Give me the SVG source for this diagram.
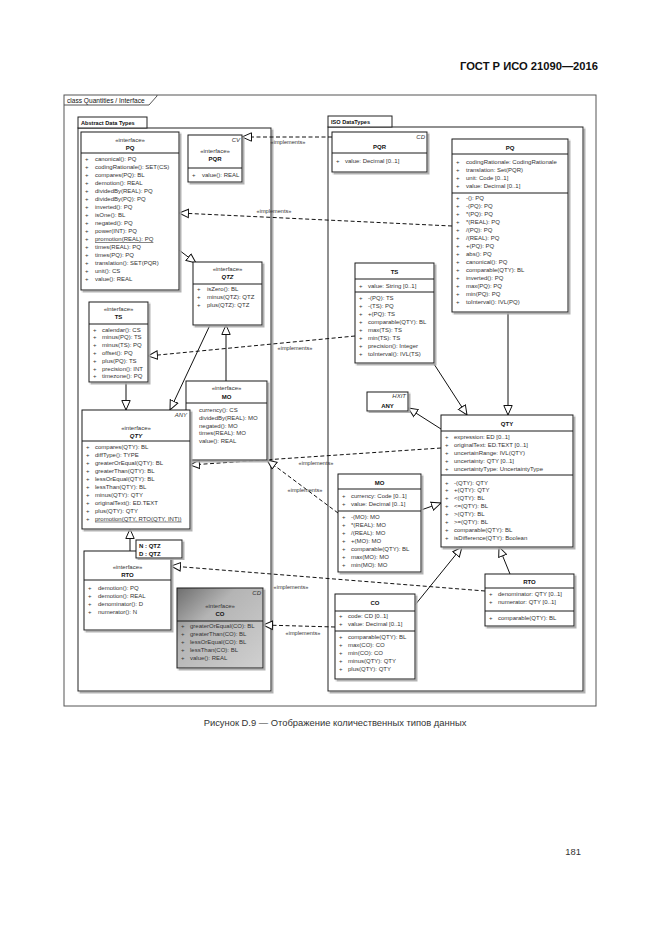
<svg xmlns="http://www.w3.org/2000/svg" width="661" height="935" viewBox="0 0 661 935">
<defs>
<style>
text{font-family:"Liberation Sans",Arial,sans-serif;font-size:6px;fill:#333}
.b{font-weight:bold;fill:#111}
.i{font-style:italic}
.c{text-anchor:middle}
.r{text-anchor:end}
.s{font-size:5.6px}
.bx{fill:#fff;stroke:#1a1a1a;stroke-width:1}
.sp{stroke:#1a1a1a;stroke-width:1}
.pk{fill:#fff;stroke:#222;stroke-width:1}
.cn{fill:none;stroke:#111;stroke-width:1}
.d{stroke-dasharray:4 2.5}
</style>
<filter id="sh" x="-5%" y="-5%" width="115%" height="115%">
<feOffset in="SourceAlpha" dx="1.6" dy="1.6" result="o"/>
<feColorMatrix in="o" type="matrix" values="0 0 0 0 0.4 0 0 0 0 0.4 0 0 0 0 0.4 0 0 0 0.9 0" result="g"/>
<feMerge><feMergeNode in="g"/><feMergeNode in="SourceGraphic"/></feMerge>
</filter>
<linearGradient id="gr" x1="0" y1="0" x2="1" y2="1">
<stop offset="0" stop-color="#6e6e6e"/>
<stop offset="0.35" stop-color="#b4b4b4"/>
<stop offset="1" stop-color="#d0d0d0"/>
</linearGradient>
<marker id="tri" markerUnits="userSpaceOnUse" markerWidth="12" markerHeight="12" refX="10" refY="5" orient="auto" viewBox="0 0 12 10">
<path d="M0.5,0.8 L10,5 L0.5,9.2 Z" fill="#fff" stroke="#111" stroke-width="1"/>
</marker>
</defs>
<rect width="661" height="935" fill="#fff"/>
<text x="598" y="70" class="b r" style="font-size:11.2px">ГОСТ Р ИСО 21090—2016</text>
<text x="335" y="726" class="c" style="font-size:9.4px">Рисунок D.9 — Отображение количественных типов данных</text>
<text x="581" y="855" class="r" style="font-size:9.4px">181</text>

<g id="frame">
<rect x="64" y="95" width="532" height="611" fill="none" stroke="#555" stroke-width="1"/>
<path d="M64,105 H149 L157,96 V95" fill="none" stroke="#555" stroke-width="1"/>
<text x="67" y="102.5" style="fill:#111;font-size:6.6px">class Quantities / Interface</text>
</g>

<g id="pkg-abstract">
<rect x="78" y="128" width="193" height="563" class="pk" filter="url(#sh)"/>
<rect x="78" y="117" width="69" height="11" class="pk"/>
<text x="81" y="125" class="b s">Abstract Data Types</text>
</g>
<g id="pkg-iso">
<rect x="328" y="127" width="255" height="564" class="pk" filter="url(#sh)"/>
<rect x="328" y="116" width="64" height="11" class="pk"/>
<text x="331" y="124" class="b s">ISO DataTypes</text>
</g>

<g id="connectors">
<path class="cn d" d="M332,137 L242,137" marker-end="url(#tri)"/>
<path class="cn d" d="M452,226 L179,213" marker-end="url(#tri)"/>
<path class="cn" d="M179,250 L196,263" marker-end="url(#tri)"/>
<path class="cn d" d="M355,336 L148,356" marker-end="url(#tri)"/>
<path class="cn" d="M210,325 L170,410" marker-end="url(#tri)"/>
<path class="cn" d="M226,381 L226,325" marker-end="url(#tri)"/>
<path class="cn" d="M126,381 L126,410" marker-end="url(#tri)"/>
<path class="cn" d="M130,551 L130,529" marker-end="url(#tri)"/>
<path class="cn d" d="M338,513 L267,460" marker-end="url(#tri)"/>
<path class="cn d" d="M441,448 L190,465" marker-end="url(#tri)"/>
<path class="cn" d="M434,364 L467,415" marker-end="url(#tri)"/>
<path class="cn" d="M508,312 L508,415" marker-end="url(#tri)"/>
<path class="cn" d="M441,429 L408,408" marker-end="url(#tri)"/>
<path class="cn" d="M421,510 L441,503" marker-end="url(#tri)"/>
<path class="cn" d="M415,605 L462,547" marker-end="url(#tri)"/>
<path class="cn" d="M510,574 L499,547" marker-end="url(#tri)"/>
<path class="cn d" d="M485,591 L171,566" marker-end="url(#tri)"/>
<path class="cn d" d="M335,627 L263,625" marker-end="url(#tri)"/>
<text x="288" y="143.5" class="c s">«implements»</text>
<text x="274" y="213" class="c s">«implements»</text>
<text x="295" y="350" class="c s">«implements»</text>
<text x="316" y="465" class="c s">«implements»</text>
<text x="305" y="492" class="c s">«implements»</text>
<text x="291" y="589" class="c s">«implements»</text>
<text x="303" y="635" class="c s">«implements»</text>
</g>

<g id="i-PQ">
<rect x="81" y="132" width="98" height="158" class="bx" filter="url(#sh)"/>
<line x1="81" y1="153" x2="179" y2="153" class="sp"/>
<text x="130" y="142" class="c">«interface»</text>
<text x="130" y="150" class="c b">PQ</text>
<text x="85" y="161.3">+<tspan x="95">canonical(): PQ</tspan></text>
<text x="85" y="169.3">+<tspan x="95">codingRationale(): SET(CS)</tspan></text>
<text x="85" y="177.3">+<tspan x="95">compares(PQ): BL</tspan></text>
<text x="85" y="185.3">+<tspan x="95">demotion(): REAL</tspan></text>
<text x="85" y="193.3">+<tspan x="95">dividedBy(REAL): PQ</tspan></text>
<text x="85" y="201.3">+<tspan x="95">dividedBy(PQ): PQ</tspan></text>
<text x="85" y="209.3">+<tspan x="95">inverted(): PQ</tspan></text>
<text x="85" y="217.3">+<tspan x="95">isOne(): BL</tspan></text>
<text x="85" y="225.3">+<tspan x="95">negated(): PQ</tspan></text>
<text x="85" y="233.3">+<tspan x="95">power(INT): PQ</tspan></text>
<text x="85" y="241.3">+<tspan x="95" text-decoration="underline">promotion(REAL): PQ</tspan></text>
<text x="85" y="249.3">+<tspan x="95">times(REAL): PQ</tspan></text>
<text x="85" y="257.3">+<tspan x="95">times(PQ): PQ</tspan></text>
<text x="85" y="265.3">+<tspan x="95">translation(): SET(PQR)</tspan></text>
<text x="85" y="273.3">+<tspan x="95">unit(): CS</tspan></text>
<text x="85" y="281.3">+<tspan x="95">value(): REAL</tspan></text>
</g>

<g id="i-PQR">
<rect x="188" y="135" width="54" height="47" class="bx" filter="url(#sh)"/>
<line x1="188" y1="168" x2="242" y2="168" class="sp"/>
<text x="240" y="141.5" class="r i">CV</text>
<text x="215" y="153" class="c">«interface»</text>
<text x="215" y="161" class="c b">PQR</text>
<text x="192" y="177">+<tspan x="202">value(): REAL</tspan></text>
</g>

<g id="i-QTZ">
<rect x="193" y="262" width="69" height="63" class="bx" filter="url(#sh)"/>
<line x1="193" y1="284" x2="262" y2="284" class="sp"/>
<text x="227.5" y="271" class="c">«interface»</text>
<text x="227.5" y="279" class="c b i">QTZ</text>
<text x="197" y="291">+<tspan x="207">isZero(): BL</tspan></text>
<text x="197" y="299">+<tspan x="207">minus(QTZ): QTZ</tspan></text>
<text x="197" y="307">+<tspan x="207">plus(QTZ): QTZ</tspan></text>
</g>

<g id="i-TS">
<rect x="89" y="302" width="59" height="80" class="bx" filter="url(#sh)"/>
<line x1="89" y1="324" x2="148" y2="324" class="sp"/>
<text x="118.5" y="310.5" class="c">«interface»</text>
<text x="118.5" y="319" class="c b">TS</text>
<text x="93" y="331.5">+<tspan x="102">calendar(): CS</tspan></text>
<text x="93" y="339.3">+<tspan x="102">minus(PQ): TS</tspan></text>
<text x="93" y="347.1">+<tspan x="102">minus(TS): PQ</tspan></text>
<text x="93" y="354.9">+<tspan x="102">offset(): PQ</tspan></text>
<text x="93" y="362.7">+<tspan x="102">plus(PQ): TS</tspan></text>
<text x="93" y="370.5">+<tspan x="102">precision(): INT</tspan></text>
<text x="93" y="378.3">+<tspan x="102">timezone(): PQ</tspan></text>
</g>

<g id="i-MO">
<rect x="186" y="381" width="81" height="79" class="bx" filter="url(#sh)"/>
<line x1="186" y1="403" x2="267" y2="403" class="sp"/>
<text x="226.5" y="390" class="c">«interface»</text>
<text x="226.5" y="399" class="c b">MO</text>
<text x="199" y="412">currency(): CS</text>
<text x="199" y="419.8">dividedBy(REAL): MO</text>
<text x="199" y="427.6">negated(): MO</text>
<text x="199" y="435.4">times(REAL): MO</text>
<text x="199" y="443.2">value(): REAL</text>
</g>

<g id="i-QTY">
<rect x="82" y="410" width="108" height="119" class="bx" filter="url(#sh)"/>
<line x1="82" y1="441" x2="190" y2="441" class="sp"/>
<text x="187" y="417" class="r i">ANY</text>
<text x="136" y="430" class="c">«interface»</text>
<text x="136" y="438" class="c b i">QTY</text>
<text x="86" y="448.7">+<tspan x="95">compares(QTY): BL</tspan></text>
<text x="86" y="456.7">+<tspan x="95">diffType(): TYPE</tspan></text>
<text x="86" y="464.7">+<tspan x="95">greaterOrEqual(QTY): BL</tspan></text>
<text x="86" y="472.7">+<tspan x="95">greaterThan(QTY): BL</tspan></text>
<text x="86" y="480.7">+<tspan x="95">lessOrEqual(QTY): BL</tspan></text>
<text x="86" y="488.7">+<tspan x="95">lessThan(QTY): BL</tspan></text>
<text x="86" y="496.7">+<tspan x="95">minus(QTY): QTY</tspan></text>
<text x="86" y="504.7">+<tspan x="95">originalText(): ED.TEXT</tspan></text>
<text x="86" y="512.7">+<tspan x="95">plus(QTY): QTY</tspan></text>
<text x="86" y="520.7">+<tspan x="95" text-decoration="underline">promotion(QTY, RTO(QTY, INT))</tspan></text>
</g>

<g id="i-RTO">
<rect x="84" y="551" width="87" height="79" class="bx" filter="url(#sh)"/>
<line x1="84" y1="580" x2="171" y2="580" class="sp"/>
<text x="127.5" y="569" class="c">«interface»</text>
<text x="127.5" y="577" class="c b">RTO</text>
<text x="88" y="589.7">+<tspan x="98">demotion(): PQ</tspan></text>
<text x="88" y="597.7">+<tspan x="98">demotion(): REAL</tspan></text>
<text x="88" y="605.7">+<tspan x="98">denominator(): D</tspan></text>
<text x="88" y="613.7">+<tspan x="98">numerator(): N</tspan></text>
</g>

<g id="binding-RTO">
<rect x="136" y="540" width="46" height="18" class="bx" filter="url(#sh)"/>
<text x="139" y="547.5" class="b">N : QTZ</text>
<text x="139" y="555.5" class="b">D : QTZ</text>
</g>

<g id="i-CO">
<rect x="177" y="588" width="86" height="80" fill="url(#gr)" stroke="#1a1a1a" stroke-width="1" filter="url(#sh)"/>
<line x1="177" y1="621" x2="263" y2="621" class="sp"/>
<text x="261" y="595" class="r i">CD</text>
<text x="220" y="608" class="c">«interface»</text>
<text x="220" y="616" class="c b">CO</text>
<text x="181" y="628">+<tspan x="190">greaterOrEqual(CO): BL</tspan></text>
<text x="181" y="636">+<tspan x="190">greaterThan(CO): BL</tspan></text>
<text x="181" y="644">+<tspan x="190">lessOrEqual(CO): BL</tspan></text>
<text x="181" y="652">+<tspan x="190">lessThan(CO): BL</tspan></text>
<text x="181" y="660">+<tspan x="190">value(): REAL</tspan></text>
</g>

<g id="c-PQR">
<rect x="332" y="132" width="95" height="40" class="bx" filter="url(#sh)"/>
<line x1="332" y1="153" x2="427" y2="153" class="sp"/>
<text x="425" y="139" class="r i">CD</text>
<text x="379.5" y="149" class="c b">PQR</text>
<text x="336" y="163">+<tspan x="345">value: Decimal [0..1]</tspan></text>
</g>

<g id="c-PQ">
<rect x="452" y="139" width="116" height="173" class="bx" filter="url(#sh)"/>
<line x1="452" y1="154" x2="568" y2="154" class="sp"/>
<line x1="452" y1="193" x2="568" y2="193" class="sp"/>
<text x="510" y="150" class="c b">PQ</text>
<text x="456" y="164">+<tspan x="466">codingRationale: CodingRationale</tspan></text>
<text x="456" y="172">+<tspan x="466">translation: Set(PQR)</tspan></text>
<text x="456" y="180">+<tspan x="466">unit: Code [0..1]</tspan></text>
<text x="456" y="188">+<tspan x="466">value: Decimal [0..1]</tspan></text>
<text x="456" y="200.3">+<tspan x="466">-(): PQ</tspan></text>
<text x="456" y="208.3">+<tspan x="466">-(PQ): PQ</tspan></text>
<text x="456" y="216.3">+<tspan x="466">*(PQ): PQ</tspan></text>
<text x="456" y="224.3">+<tspan x="466">*(REAL): PQ</tspan></text>
<text x="456" y="232.3">+<tspan x="466">/(PQ): PQ</tspan></text>
<text x="456" y="240.3">+<tspan x="466">/(REAL): PQ</tspan></text>
<text x="456" y="248.3">+<tspan x="466">+(PQ): PQ</tspan></text>
<text x="456" y="256.3">+<tspan x="466">abs(): PQ</tspan></text>
<text x="456" y="264.3">+<tspan x="466">canonical(): PQ</tspan></text>
<text x="456" y="272.3">+<tspan x="466">comparable(QTY): BL</tspan></text>
<text x="456" y="280.3">+<tspan x="466">inverted(): PQ</tspan></text>
<text x="456" y="288.3">+<tspan x="466">max(PQ): PQ</tspan></text>
<text x="456" y="296.3">+<tspan x="466">min(PQ): PQ</tspan></text>
<text x="456" y="304.3">+<tspan x="466">toInterval(): IVL(PQ)</tspan></text>
</g>

<g id="c-TS">
<rect x="355" y="263" width="79" height="100" class="bx" filter="url(#sh)"/>
<line x1="355" y1="279" x2="434" y2="279" class="sp"/>
<line x1="355" y1="292" x2="434" y2="292" class="sp"/>
<text x="394.5" y="274" class="c b">TS</text>
<text x="359" y="287.7">+<tspan x="368">value: String [0..1]</tspan></text>
<text x="359" y="299.7">+<tspan x="368">-(PQ): TS</tspan></text>
<text x="359" y="307.7">+<tspan x="368">-(TS): PQ</tspan></text>
<text x="359" y="315.7">+<tspan x="368">+(PQ): TS</tspan></text>
<text x="359" y="323.7">+<tspan x="368">comparable(QTY): BL</tspan></text>
<text x="359" y="331.7">+<tspan x="368">max(TS): TS</tspan></text>
<text x="359" y="339.7">+<tspan x="368">min(TS): TS</tspan></text>
<text x="359" y="347.7">+<tspan x="368">precision(): Integer</tspan></text>
<text x="359" y="355.7">+<tspan x="368">toInterval(): IVL(TS)</tspan></text>
</g>

<g id="c-ANY">
<rect x="367" y="392" width="41" height="19" class="bx" filter="url(#sh)"/>
<text x="406" y="398" class="r i">HXIT</text>
<text x="387.5" y="408" class="c b">ANY</text>
</g>

<g id="c-QTY">
<rect x="441" y="415" width="132" height="132" class="bx" filter="url(#sh)"/>
<line x1="441" y1="431" x2="573" y2="431" class="sp"/>
<line x1="441" y1="475" x2="573" y2="475" class="sp"/>
<text x="507" y="425.5" class="c b">QTY</text>
<text x="445" y="438.7">+<tspan x="454">expression: ED [0..1]</tspan></text>
<text x="445" y="446.7">+<tspan x="454">originalText: ED.TEXT [0..1]</tspan></text>
<text x="445" y="454.7">+<tspan x="454">uncertainRange: IVL(QTY)</tspan></text>
<text x="445" y="462.7">+<tspan x="454">uncertainty: QTY [0..1]</tspan></text>
<text x="445" y="470.7">+<tspan x="454">uncertaintyType: UncertaintyType</tspan></text>
<text x="445" y="484.5">+<tspan x="454">-(QTY): QTY</tspan></text>
<text x="445" y="492.4">+<tspan x="454">+(QTY): QTY</tspan></text>
<text x="445" y="500.3">+<tspan x="454">&lt;(QTY): BL</tspan></text>
<text x="445" y="508.2">+<tspan x="454">&lt;=(QTY): BL</tspan></text>
<text x="445" y="516.1">+<tspan x="454">&gt;(QTY): BL</tspan></text>
<text x="445" y="524">+<tspan x="454">&gt;=(QTY): BL</tspan></text>
<text x="445" y="531.9">+<tspan x="454">comparable(QTY): BL</tspan></text>
<text x="445" y="539.8">+<tspan x="454">isDifference(QTY): Boolean</tspan></text>
</g>

<g id="c-MO">
<rect x="338" y="474" width="83" height="98" class="bx" filter="url(#sh)"/>
<line x1="338" y1="489" x2="421" y2="489" class="sp"/>
<line x1="338" y1="511" x2="421" y2="511" class="sp"/>
<text x="379.5" y="485" class="c b">MO</text>
<text x="342" y="498">+<tspan x="351">currency: Code [0..1]</tspan></text>
<text x="342" y="506">+<tspan x="351">value: Decimal [0..1]</tspan></text>
<text x="342" y="518.7">+<tspan x="351">-(MO): MO</tspan></text>
<text x="342" y="526.7">+<tspan x="351">*(REAL): MO</tspan></text>
<text x="342" y="534.7">+<tspan x="351">/(REAL): MO</tspan></text>
<text x="342" y="542.7">+<tspan x="351">+(MO): MO</tspan></text>
<text x="342" y="550.7">+<tspan x="351">comparable(QTY): BL</tspan></text>
<text x="342" y="558.7">+<tspan x="351">max(MO): MO</tspan></text>
<text x="342" y="566.7">+<tspan x="351">min(MO): MO</tspan></text>
</g>

<g id="c-CO">
<rect x="335" y="594" width="80" height="85" class="bx" filter="url(#sh)"/>
<line x1="335" y1="611" x2="415" y2="611" class="sp"/>
<line x1="335" y1="631" x2="415" y2="631" class="sp"/>
<text x="375" y="604.5" class="c b">CO</text>
<text x="339" y="618">+<tspan x="348">code: CD [0..1]</tspan></text>
<text x="339" y="626">+<tspan x="348">value: Decimal [0..1]</tspan></text>
<text x="339" y="638.7">+<tspan x="348">comparable(QTY): BL</tspan></text>
<text x="339" y="646.7">+<tspan x="348">max(CO): CO</tspan></text>
<text x="339" y="654.7">+<tspan x="348">min(CO): CO</tspan></text>
<text x="339" y="662.7">+<tspan x="348">minus(QTY): QTY</tspan></text>
<text x="339" y="670.7">+<tspan x="348">plus(QTY): QTY</tspan></text>
</g>

<g id="c-RTO">
<rect x="485" y="574" width="89" height="52" class="bx" filter="url(#sh)"/>
<line x1="485" y1="588" x2="574" y2="588" class="sp"/>
<line x1="485" y1="611" x2="574" y2="611" class="sp"/>
<text x="529.5" y="584" class="c b">RTO</text>
<text x="489" y="596.3">+<tspan x="498">denominator: QTY [0..1]</tspan></text>
<text x="489" y="604.3">+<tspan x="498">numerator: QTY [0..1]</tspan></text>
<text x="489" y="619.7">+<tspan x="498">comparable(QTY): BL</tspan></text>
</g>
</svg>
